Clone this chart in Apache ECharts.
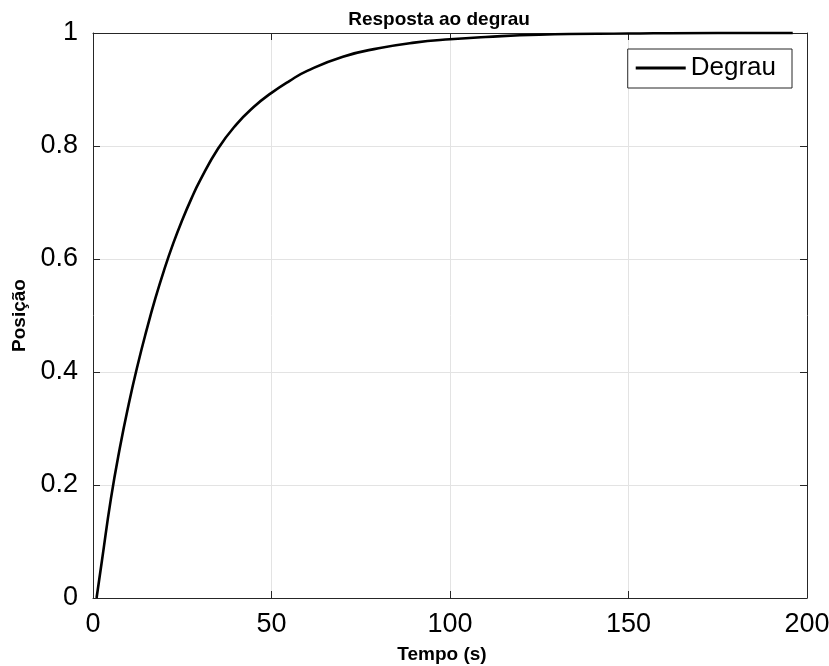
<!DOCTYPE html>
<html>
<head>
<meta charset="utf-8">
<script src="https://cdn.jsdelivr.net/npm/echarts@6/dist/echarts.min.js"></script>
<style>
html, body { margin: 0; padding: 0; background: #fff; }
#chart { width: 829px; height: 666px; }
</style>
</head>
<body>
<div id="chart"></div>
<script>
// valores (tempo em s, posição)
var tempo = [1, 2.5, 5, 7.5, 10, 12.5, 15, 17.5, 20, 22.5, 25, 27.5, 30, 35, 40, 45, 50, 55, 60, 70, 80, 90, 100, 110, 125, 150, 175, 196];
var posicao = [0, 0.066, 0.175, 0.265, 0.343, 0.412, 0.474, 0.531, 0.582, 0.628, 0.669, 0.706, 0.739, 0.795, 0.837, 0.869, 0.894, 0.915, 0.933, 0.958, 0.973, 0.983, 0.989, 0.993, 0.997, 0.999, 1.0, 1.0];
var xTicks = [0, 50, 100, 150, 200];
var yTicks = [0, 0.2, 0.4, 0.6, 0.8, 1];

var pontos = tempo.map(function (t, i) { return [t, posicao[i]]; });
var font = 'Liberation Sans, Arial, Helvetica, sans-serif';
var ink = '#262626';

var chart = echarts.init(document.getElementById('chart'));

var baseAxis = {
	axisLine: { show: true, onZero: false, lineStyle: { color: ink, width: 1 } },
	axisTick: { show: true, inside: true, length: 7, lineStyle: { color: ink } },
};

chart.setOption({
	animation: false,
	backgroundColor: '#fff',
	title: {
		text: 'Resposta ao degrau',
		left: 434, top: 5, textAlign: 'center',
		textStyle: { fontFamily: font, fontSize: 19, fontWeight: 'bold', color: '#000' }
	},
	legend: {
		data: ['Degrau'],
		right: 37, top: 49,
		orient: 'vertical',
		icon: 'rect', itemWidth: 50, itemHeight: 3, itemGap: 0,
		padding: [6, 16, 7, 8],
		borderColor: ink, borderWidth: 1,
		backgroundColor: '#fff',
		textStyle: { fontFamily: font, fontSize: 26, color: '#000' }
	},
	grid: { left: 93, right: 22, top: 33, bottom: 68, containLabel: false, outerBoundsMode: 'none' },
	xAxis: [
		Object.assign({}, baseAxis, {
			type: 'value', min: 0, max: 200, interval: 50, position: 'bottom',
			name: 'Tempo (s)', nameLocation: 'middle', nameGap: 47,
			nameTextStyle: { fontFamily: font, fontSize: 19, fontWeight: 'bold', color: '#000', padding: [0, 16, 0, 0] },
			axisLabel: {
				fontFamily: font, fontSize: 27, color: '#000', margin: 13,
				formatter: function (v) { return xTicks.indexOf(v) >= 0 ? String(v) : ''; }
			},
			splitLine: { show: true, lineStyle: { color: '#e3e3e3', width: 1 } }
		}),
		Object.assign({}, baseAxis, {
			type: 'value', min: 0, max: 200, interval: 50, position: 'top',
			axisLabel: { show: false }, splitLine: { show: false }
		})
	],
	yAxis: [
		Object.assign({}, baseAxis, {
			type: 'value', min: 0, max: 1, interval: 0.2, position: 'left',
			name: 'Posição', nameLocation: 'middle', nameGap: 60, nameRotate: 90,
			nameTextStyle: { fontFamily: font, fontSize: 19, fontWeight: 'bold', color: '#000' },
			axisLabel: {
				fontFamily: font, fontSize: 27, color: '#000', margin: 15,
				formatter: function (v) {
					var r = Math.round(v * 10) / 10;
					return yTicks.indexOf(r) >= 0 ? String(r) : '';
				}
			},
			splitLine: { show: true, lineStyle: { color: '#e3e3e3', width: 1 } }
		}),
		Object.assign({}, baseAxis, {
			type: 'value', min: 0, max: 1, interval: 0.2, position: 'right',
			axisLabel: { show: false }, splitLine: { show: false }
		})
	],
	series: [{
		name: 'Degrau',
		type: 'line',
		data: pontos,
		smooth: true,
		showSymbol: false,
		symbol: 'none',
		clip: false,
		lineStyle: { color: '#000', width: 2.6 },
		itemStyle: { color: '#000' }
	}]
});
</script>
</body>
</html>
